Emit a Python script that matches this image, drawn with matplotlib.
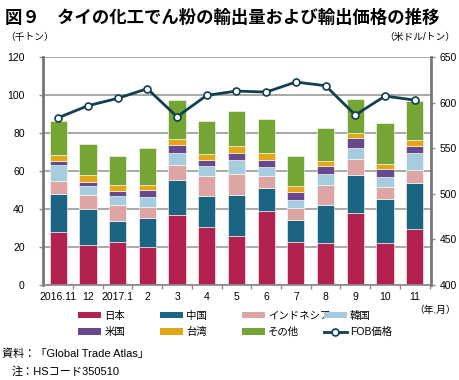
import matplotlib.pyplot as plt
from matplotlib.patches import Patch
from matplotlib.lines import Line2D
import numpy as np

plt.rcParams['font.family'] = ['Liberation Sans', 'Noto Sans CJK JP', 'DejaVu Sans']

months = ['2016.11', '12', '2017.1', '2', '3', '4', '5', '6', '7', '8', '9', '10', '11']

japan = [28.1, 20.9, 22.7, 19.9, 36.9, 30.4, 25.7, 38.8, 22.8, 22.1, 37.8, 22.3, 29.3]
china = [19.9, 19.2, 10.9, 15.6, 18.3, 16.5, 21.9, 12.5, 11.5, 19.9, 20.2, 22.9, 24.3]
indonesia = [6.7, 7.2, 8.4, 5.6, 7.9, 10.7, 11.1, 6.0, 6.5, 10.5, 8.3, 6.6, 7.0]
korea = [8.4, 4.9, 4.7, 5.5, 6.5, 5.0, 7.0, 5.1, 4.0, 6.2, 6.1, 5.1, 9.2]
usa = [2.3, 2.3, 2.7, 3.3, 4.2, 3.5, 4.1, 3.7, 4.4, 4.2, 5.1, 4.4, 3.5]
taiwan = [3.1, 3.5, 3.1, 2.8, 3.2, 3.0, 3.5, 3.3, 2.8, 2.5, 2.6, 2.5, 3.1]
others = [18.0, 16.3, 15.7, 19.4, 20.5, 17.4, 18.3, 17.9, 15.8, 17.6, 18.0, 21.8, 20.8]

fob = [583.7, 596.9, 605.0, 615.6, 584.8, 608.3, 613.0, 611.9, 622.9, 618.9, 586.7, 607.5, 603.1]

series = [
    ('日本', japan, '#B3214F'),
    ('中国', china, '#1B6583'),
    ('インドネシア', indonesia, '#DDA5A4'),
    ('韓国', korea, '#A5CDDE'),
    ('米国', usa, '#684A8C'),
    ('台湾', taiwan, '#E2A617'),
    ('その他', others, '#74A535'),
]
line_color = '#123F50'
grey = '#8C8C8C'

fig = plt.figure(figsize=(4.6, 3.8), dpi=100)
ax = fig.add_axes([0.093, 0.25, 0.844, 0.599])

x = np.arange(len(months))
bottom = np.zeros(len(months))
for name, vals, col in series:
    ax.bar(x, vals, width=0.58, bottom=bottom, color=col, edgecolor='white',
           linewidth=0.4, zorder=2)
    bottom += np.array(vals)

ax.set_xlim(-0.52, len(months) - 0.45)
ax.set_ylim(0, 120)
ax.set_yticks(range(0, 121, 20))
ax.yaxis.grid(True, color='#999999', linewidth=1.2, zorder=0)
ax.set_axisbelow(True)
ax.set_xticks(x)
ax.set_xticklabels(months, fontsize=7.5)
ax.set_xticks(np.arange(len(months)) + 0.5, minor=True)
ax.tick_params(axis='x', which='major', length=0, pad=5)
ax.tick_params(axis='x', which='minor', length=3, color=grey, width=1)
ax.tick_params(axis='y', labelsize=7.5, length=3, color=grey, width=1, pad=10)

for s in ['top', 'right']:
    ax.spines[s].set_visible(False)
ax.spines['left'].set_color('#777777')
ax.spines['left'].set_linewidth(2)
ax.spines['bottom'].set_color(grey)
ax.spines['bottom'].set_linewidth(1.3)

ax2 = ax.twinx()
ax2.plot(x, fob, color=line_color, linewidth=2, marker='o', markersize=5,
         markerfacecolor='white', markeredgecolor=line_color, markeredgewidth=1.2,
         zorder=5)
ax2.set_ylim(400, 650)
ax2.set_yticks(range(400, 651, 50))
ax2.tick_params(axis='y', labelsize=7.5, length=3, color=grey, width=1, pad=3)
for s in ['top', 'left', 'bottom']:
    ax2.spines[s].set_visible(False)
ax2.spines['right'].set_color('#777777')
ax2.spines['right'].set_linewidth(2)

fig.text(0.01, 0.955, '図９　タイの化工でん粉の輸出量および輸出価格の推移',
         fontsize=12.5, fontweight='bold', va='center', ha='left')
fig.text(0.012, 0.902, '（千トン）', fontsize=7, va='center', ha='left')
fig.text(0.99, 0.902, '（米ドル/トン）', fontsize=7, va='center', ha='right')
fig.text(0.99, 0.185, '（年.月）', fontsize=7, va='center', ha='right')

handles = [Patch(facecolor=c, label=n) for n, v, c in series]
handles.append(Line2D([], [], color=line_color, linewidth=2, marker='o', markersize=5,
                      markerfacecolor='white', markeredgecolor=line_color,
                      markeredgewidth=1.2, label='FOB価格'))
col_x = [0.170, 0.348, 0.526, 0.704]
for i, cx in enumerate(col_x):
    fig.legend(handles=[handles[i], handles[i + 4]], loc='upper left',
               bbox_to_anchor=(cx, 0.182), frameon=False, fontsize=7.5,
               handlelength=2.2, handleheight=0.55, handletextpad=0.3,
               labelspacing=0.6, borderpad=0, borderaxespad=0)

fig.text(0.004, 0.07, '資料：「Global Trade Atlas」', fontsize=8, va='center', ha='left')
fig.text(0.026, 0.022, '注：HSコード350510', fontsize=8, va='center', ha='left')

fig.savefig('out.png', dpi=100)
